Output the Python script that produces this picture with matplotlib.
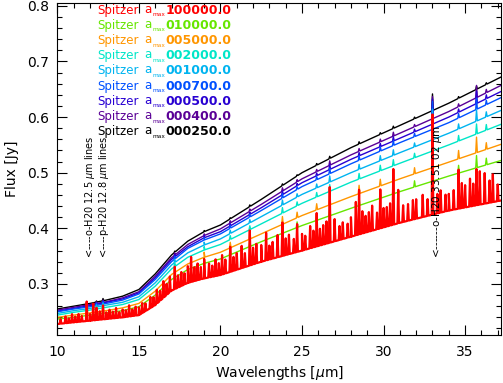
import numpy as np
import matplotlib
matplotlib.use('Agg')
import matplotlib.pyplot as plt

# continuum (flux in Jy at these wavelengths)
wave = [10, 11, 12, 13, 14, 15, 16, 17, 18, 19, 20, 22.5, 25, 28, 31, 34, 37.2]
f_100000 = [0.228, 0.231, 0.234, 0.237, 0.240, 0.244, 0.262, 0.288, 0.302, 0.310, 0.316, 0.340, 0.360, 0.385, 0.410, 0.432, 0.450]
f_010000 = [0.237, 0.240, 0.244, 0.248, 0.252, 0.259, 0.280, 0.308, 0.326, 0.337, 0.345, 0.376, 0.405, 0.436, 0.466, 0.494, 0.522]
f_005000 = [0.240, 0.244, 0.248, 0.252, 0.257, 0.265, 0.287, 0.317, 0.336, 0.348, 0.357, 0.390, 0.423, 0.457, 0.489, 0.519, 0.551]
f_002000 = [0.244, 0.249, 0.253, 0.258, 0.263, 0.272, 0.296, 0.327, 0.348, 0.361, 0.371, 0.408, 0.445, 0.483, 0.517, 0.550, 0.587]
f_001000 = [0.247, 0.252, 0.256, 0.262, 0.267, 0.277, 0.302, 0.334, 0.356, 0.370, 0.381, 0.421, 0.461, 0.500, 0.536, 0.571, 0.612]
f_000700 = [0.250, 0.255, 0.259, 0.265, 0.271, 0.282, 0.308, 0.340, 0.364, 0.379, 0.390, 0.432, 0.475, 0.516, 0.554, 0.590, 0.635]
f_000500 = [0.251, 0.256, 0.261, 0.267, 0.273, 0.284, 0.311, 0.344, 0.367, 0.383, 0.394, 0.437, 0.482, 0.524, 0.562, 0.600, 0.646]
f_000400 = [0.253, 0.258, 0.263, 0.268, 0.275, 0.286, 0.314, 0.347, 0.371, 0.387, 0.399, 0.443, 0.489, 0.532, 0.571, 0.610, 0.657]
f_000250 = [0.255, 0.260, 0.265, 0.271, 0.278, 0.290, 0.318, 0.352, 0.377, 0.394, 0.406, 0.452, 0.500, 0.545, 0.585, 0.625, 0.672]

amax_labels = ['100000.0', '010000.0', '005000.0', '002000.0', '001000.0',
               '000700.0', '000500.0', '000400.0', '000250.0']
colors = ['#ff0000', '#66e600', '#ff9600', '#00e6c8', '#00b4f0',
          '#0050ff', '#2800d2', '#5a0096', '#000000']

# water lines in the amax=100000 spectrum and their height above continuum
red_lines = [10.2, 10.5, 10.7, 10.9, 11.1, 11.3, 11.5, 11.8, 12.0, 12.2, 12.4, 12.6,
             12.8, 13.0, 13.2, 13.4, 13.6, 13.8, 14.0, 14.2, 14.4, 14.6, 14.8, 15.0,
             15.2, 15.4, 15.7, 15.9, 16.1, 16.3, 16.5, 16.7, 16.9, 17.2, 17.4, 17.6,
             17.8, 18.0, 18.2, 18.4, 18.6, 18.8, 19.0, 19.3, 19.5, 19.7, 19.9, 20.1,
             20.3, 20.6, 20.8, 21.0, 21.3, 21.5, 21.8, 22.0, 22.2, 22.5, 22.8, 23.0,
             23.2, 23.5, 23.8, 24.0, 24.2, 24.5, 24.7, 25.0, 25.2, 25.5, 25.7, 25.9,
             26.1, 26.3, 26.5, 26.7, 27.0, 27.3, 27.5, 27.8, 28.0, 28.3, 28.5, 28.7,
             28.9, 29.1, 29.3, 29.6, 29.8, 30.0, 30.2, 30.4, 30.6, 30.9, 31.2, 31.5,
             31.8, 32.0, 32.4, 32.7, 33.0, 33.3, 33.5, 33.8, 34.0, 34.3, 34.6, 34.8,
             35.0, 35.3, 35.5, 35.7, 35.9, 36.2, 36.5, 36.7, 37.0]
red_dh = [0.008, 0.012, 0.008, 0.015, 0.010, 0.014, 0.010, 0.035, 0.012, 0.030, 0.022, 0.015,
          0.025, 0.012, 0.016, 0.012, 0.018, 0.010, 0.014, 0.012, 0.020, 0.012, 0.016, 0.014,
          0.018, 0.014, 0.020, 0.016, 0.025, 0.018, 0.030, 0.020, 0.028, 0.040, 0.022, 0.025,
          0.020, 0.030, 0.045, 0.025, 0.030, 0.022, 0.035, 0.025, 0.020, 0.030, 0.022, 0.035,
          0.025, 0.045, 0.025, 0.030, 0.040, 0.025, 0.063, 0.030, 0.035, 0.030, 0.050, 0.025,
          0.030, 0.040, 0.060, 0.030, 0.035, 0.025, 0.050, 0.030, 0.025, 0.040, 0.030, 0.060,
          0.030, 0.035, 0.040, 0.100, 0.040, 0.025, 0.030, 0.025, 0.035, 0.060, 0.080, 0.040,
          0.030, 0.035, 0.045, 0.030, 0.070, 0.035, 0.035, 0.040, 0.100, 0.060, 0.030, 0.030,
          0.035, 0.035, 0.040, 0.030, 0.180, 0.035, 0.040, 0.030, 0.030, 0.035, 0.070, 0.045,
          0.040, 0.050, 0.040, 0.065, 0.060, 0.055, 0.040, 0.050, 0.030]

# strongest lines, seen in every other spectrum
lines = [12.4, 12.8, 17.2, 19.0, 20.6, 21.8, 23.8, 24.7, 25.9, 26.7, 28.5, 29.8,
         30.6, 31.9, 33.0, 34.6, 35.7, 36.3]
dh_010000 = [0.008, 0.009, 0.010, 0.009, 0.010, 0.012, 0.014, 0.010, 0.011, 0.018, 0.014, 0.012, 0.020, 0.011, 0.070, 0.014, 0.022, 0.012]
dh_005000 = [0.007, 0.008, 0.010, 0.009, 0.010, 0.012, 0.014, 0.010, 0.011, 0.020, 0.015, 0.012, 0.022, 0.011, 0.070, 0.015, 0.028, 0.012]
dh_002000 = [0.005, 0.006, 0.007, 0.006, 0.007, 0.007, 0.010, 0.007, 0.008, 0.012, 0.010, 0.010, 0.011, 0.008, 0.060, 0.010, 0.018, 0.010]
dh_001000 = [0.004, 0.005, 0.006, 0.005, 0.006, 0.006, 0.009, 0.006, 0.007, 0.011, 0.009, 0.009, 0.010, 0.007, 0.055, 0.009, 0.020, 0.009]
dh_000700 = [0.004, 0.005, 0.005, 0.004, 0.005, 0.005, 0.008, 0.005, 0.006, 0.010, 0.008, 0.008, 0.009, 0.006, 0.050, 0.008, 0.020, 0.008]
dh_000500 = [0.003, 0.004, 0.004, 0.004, 0.004, 0.004, 0.007, 0.004, 0.005, 0.009, 0.006, 0.006, 0.008, 0.005, 0.045, 0.006, 0.022, 0.007]
dh_000400 = [0.003, 0.004, 0.004, 0.003, 0.004, 0.004, 0.006, 0.004, 0.004, 0.008, 0.005, 0.005, 0.007, 0.004, 0.040, 0.005, 0.022, 0.006]
dh_000250 = [0.002, 0.004, 0.002, 0.002, 0.002, 0.003, 0.003, 0.002, 0.003, 0.004, 0.004, 0.003, 0.004, 0.003, 0.030, 0.003, 0.006, 0.003]

flux = [f_100000, f_010000, f_005000, f_002000, f_001000, f_000700, f_000500, f_000400, f_000250]
spikes = [(red_lines, red_dh), (lines, dh_010000), (lines, dh_005000), (lines, dh_002000),
          (lines, dh_001000), (lines, dh_000700), (lines, dh_000500), (lines, dh_000400),
          (lines, dh_000250)]


def with_lines(w, f, centres, dh, half=0.05):
    # put narrow emission peaks on top of the continuum
    x = list(w)
    y = list(f)
    for c, h in zip(centres, dh):
        base = np.interp([c - half, c, c + half], w, f)
        x += [c - half, c, c + half]
        y += [base[0], base[1] + h, base[2]]
    order = np.argsort(x, kind='stable')
    return np.array(x)[order], np.array(y)[order]


fig = plt.figure(figsize=(5.03, 3.83), dpi=100)
ax = fig.add_axes([0.114, 0.125, 0.882, 0.867])

for i in range(len(flux) - 1, -1, -1):
    x, y = with_lines(wave, flux[i], spikes[i][0], spikes[i][1])
    ax.plot(x, y, color=colors[i], lw=1.6 if i == 0 else 1.0)

# legend as coloured text, in pieces: "Spitzer", "a", subscript "max", value
for i, lab in enumerate(amax_labels):
    yy = 0.979 - i * 0.0458
    kw = dict(transform=ax.transAxes, color=colors[i], va='center', ha='left')
    ax.text(0.090, yy, 'Spitzer', fontsize=8.5, **kw)
    ax.text(0.196, yy + 0.003, 'a', fontsize=8.5, **kw)
    ax.text(0.214, yy - 0.014, 'max', fontsize=4.2, **kw)
    ax.text(0.243, yy, lab, fontsize=9, fontweight='bold', **kw)

ax.text(12.0, 0.347, '<----o-H20 12.5 $\\mu$m lines', rotation=90,
        fontsize=7, ha='center', va='bottom')
ax.text(12.85, 0.347, '<----p-H20 12.8 $\\mu$m lines', rotation=90,
        fontsize=7, ha='center', va='bottom')
ax.text(33.3, 0.347, '<------o-H20 33.51 02 $\\mu$m', rotation=90,
        fontsize=7.5, ha='center', va='bottom')

ax.set_xlim(10, 37.2)
ax.set_ylim(0.208, 0.805)
ax.set_xticks([10, 15, 20, 25, 30, 35])
ax.set_yticks([0.3, 0.4, 0.5, 0.6, 0.7, 0.8])
ax.set_xticks(np.arange(10, 38, 1), minor=True)
ax.set_yticks(np.arange(0.22, 0.81, 0.02), minor=True)
ax.tick_params(which='both', direction='in', top=True, right=True, labelsize=10)
ax.tick_params(which='major', length=7, width=0.8)
ax.tick_params(axis='x', which='major', pad=7)
ax.tick_params(axis='y', which='major', pad=6)
ax.tick_params(which='minor', length=3.5, width=0.8)
ax.set_xlabel('Wavelengths [$\\mu$m]', fontsize=10, labelpad=4)
ax.set_ylabel('Flux [Jy]', fontsize=10, labelpad=6)

fig.savefig('out.png', dpi=100)
